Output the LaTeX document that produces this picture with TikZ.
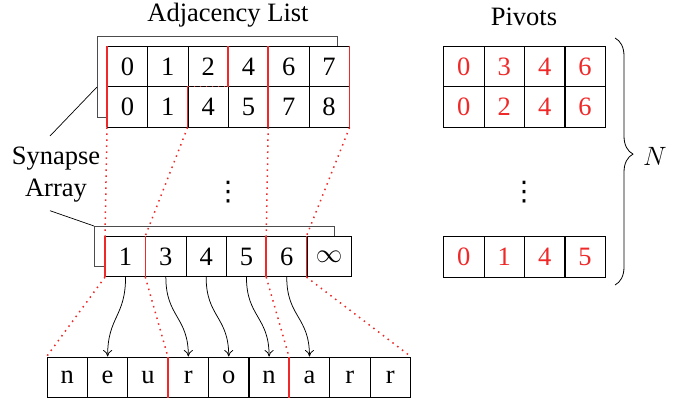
\documentclass[tikz,border=0pt]{standalone}
\usepackage{fix-cm}
\usepackage{fontspec}
\setmainfont{Liberation Serif}
\newfontfamily\symfont{DejaVu Sans}
\usetikzlibrary{arrows.meta,decorations.pathreplacing}
\definecolor{myred}{RGB}{240,40,40}
\newcommand\bigtxt{\fontsize{26.5}{32}\selectfont}
\begin{document}
\begin{tikzpicture}[x=1pt,y=-1pt,
  cell/.style={draw,line width=0.8pt,fill=white,minimum width=40.3pt,minimum height=40.3pt,inner sep=0pt,anchor=north west,font=\bigtxt},
  pcell/.style={cell,text=myred},
  backbox/.style={draw,line width=0.8pt,black!70,inner sep=0pt,anchor=north west},
  redline/.style={draw=myred,line width=1.5pt},
  reddot/.style={draw=myred,line width=1.5pt,dash pattern=on 1.5pt off 4.5pt},
  arr/.style={draw,line width=0.75pt,-{To[length=6.5pt,width=9pt]}},
  lbl/.style={font=\bigtxt,inner sep=0pt},
  dotslbl/.style={font=\symfont\fontsize{27}{27}\selectfont,inner sep=0pt}]
\useasboundingbox (0,0) rectangle (688,403);

% titles
\node[lbl,anchor=base] (title1) at (228,22) {Adjacency List};
\node[lbl,anchor=base] (title2) at (524,26) {Pivots};

% back boxes
\node[backbox,minimum width=240pt,minimum height=81pt] (tback) at (97,36) {};
\node[backbox,minimum width=240pt,minimum height=40pt] (mback) at (94,226) {};

% adjacency list rows
\foreach \v [count=\i from 0] in {0,1,2,4,6,7}
  \node[cell] (ta\i) at ({107+40.3*\i},46) {\v};
\foreach \v [count=\i from 0] in {0,1,4,5,7,8}
  \node[cell] (tb\i) at ({107+40.3*\i},86.3) {\v};

% red partitions, top
\draw[redline] (ta0.north west) -- (ta0.south west);
\draw[redline] (ta3.north west) -- (ta3.south west);
\draw[redline] (ta4.north west) -- (ta4.south west);
\draw[redline] (ta5.north east) -- (ta5.south east);
\draw[redline] (tb0.north west) -- (tb0.south west);
\draw[redline] (tb2.north west) -- (tb2.south west);
\draw[redline] (tb4.north west) -- (tb4.south west);
\draw[redline] (tb5.north east) -- (tb5.south east);
\draw[reddot] (tb2.north west) -- (tb2.north east);

% middle synapse array
\foreach \v [count=\i from 0] in {1,3,4,5,6}
  \node[cell] (m\i) at ({105+40.3*\i},236) {\v};
\node[cell,minimum width=44.5pt] (m5) at (306.5,236) {$\infty$};
\draw[redline] (m0.north west) -- (m0.south west);
\draw[redline] (m1.north west) -- (m1.south west);
\draw[redline] (m4.north west) -- (m4.south west);
\draw[redline] (m5.north west) -- (m5.south west);

% dotted lines top -> middle
\draw[reddot] (tb0.south west) -- (m0.north west);
\draw[reddot] (tb2.south west) -- (m1.north west);
\draw[reddot] (tb4.south west) -- (m4.north west);
\draw[reddot] (tb5.south east) -- (m5.north west);

% vertical dots
\node[dotslbl] (vd1) at (228,192) {⋮};
\node[dotslbl] (vd2) at (524,192) {⋮};

% char array
\foreach \v [count=\i from 0] in {n,e,u,r,o,n,a,r,r}
  \node[cell] (c\i) at ({46.7+40.37*\i},356.5) {\v};
\draw[redline] (c3.north west) -- (c3.south west);
\draw[redline] (c6.north west) -- (c6.south west);

% dotted lines middle -> chars
\draw[reddot] (m0.south west) -- (c0.north west);
\draw[reddot] (m1.south west) -- (c3.north west);
\draw[reddot] (m4.south west) -- (c6.north west);
\draw[reddot] (m5.south west) -- (c8.north east);

% arrows
\draw[arr] (m0.south) .. controls +(0,40) and +(0,-40) .. (c1.north);
\draw[arr] (m1.south) .. controls +(0,40) and +(0,-40) .. (c3.north);
\draw[arr] (m2.south) .. controls +(0,40) and +(0,-40) .. (c4.north);
\draw[arr] (m3.south) .. controls +(0,40) and +(0,-40) .. (c5.north);
\draw[arr] (m4.south) .. controls +(0,40) and +(0,-40) .. (c6.north);

% pivots
\foreach \v [count=\i from 0] in {0,3,4,6}
  \node[pcell] (pa\i) at ({443.3+40.4*\i},46) {\v};
\foreach \v [count=\i from 0] in {0,2,4,6}
  \node[pcell] (pb\i) at ({443.3+40.4*\i},86.3) {\v};
\foreach \v [count=\i from 0] in {0,1,4,5}
  \node[pcell] (pc\i) at ({443.3+40.4*\i},236.3) {\v};

% brace
\coordinate (braceTop) at (615,38);
\coordinate (braceBot) at (615,285);
\draw[line width=0.8pt,decorate,decoration={brace,amplitude=18pt,aspect=0.47}] (braceTop) -- (braceBot);
\node[lbl] (nlabel) at (655,156) {$N$};

% synapse array label
\node[lbl,align=center] (syn) at (56,175) {Synapse\\Array};
\coordinate (s1) at (50,136);
\coordinate (s2) at (50,210.7);
\draw[line width=0.7pt] (s1) -- (97,87);
\draw[line width=0.7pt] (s2) -- (mback.north west);
\end{tikzpicture}
\end{document}
